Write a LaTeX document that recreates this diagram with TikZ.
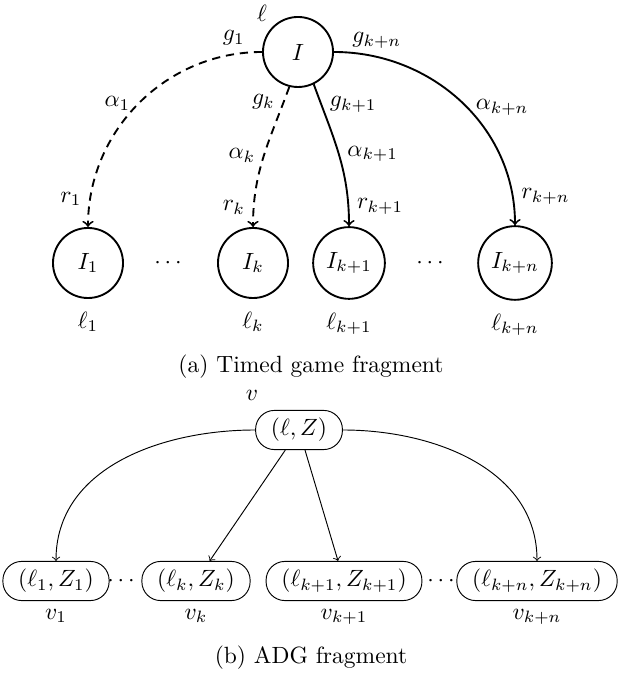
\documentclass[tikz,border=0pt]{standalone}
\usetikzlibrary{arrows, positioning}

\begin{document}
\begin{tikzpicture}[x=0.4255pt, y=0.4255pt,
  state/.style={circle, draw, thick, minimum size=29.8pt},
  zone/.style={rectangle, draw, rounded corners=8pt, minimum height=16.5pt, inner xsep=6.5pt},
  trans/.style={->, thick},
  guard/.style={dash pattern=on 3.5pt off 2.5pt},
  adg/.style={->}]
  \useasboundingbox (0,0) rectangle (620,675);

  % (a) Timed game fragment: nodes
  \node [state] (I) at (298,623) {$I$};
  \node [state] (I1) at (88,412) {$I_1$};
  \node [state] (Ik) at (253,412) {$I_k$};
  \node [state] (Ik1) at (349,412) {$I_{k+1}$};
  \node [state] (Ikn) at (515,412) {$I_{k+n}$};
  \node (dotsA) at (168,412) {$\cdots$};
  \node (dotsB) at (430,412) {$\cdots$};

  % Locations
  \node (loc) at (262,662) {$\ell$};
  \node [below=2pt of I1] (loc1) {$\ell_1$};
  \node [below=2pt of Ik] (lock) {$\ell_k$};
  \node [below=2pt of Ik1] (lock1) {$\ell_{k+1}$};
  \node [below=2pt of Ikn] (lockn) {$\ell_{k+n}$};

  % Edges
  \draw [trans, guard] (I.west) to[out=180, in=90]
    node [pos=0.1, above] (g1) {$g_1$}
    node [pos=0.5, left] (a1) {$\alpha_1$}
    node [pos=0.9, left] (r1) {$r_1$} (I1.north);
  \draw [trans, guard] (I.-104) to[out=-110, in=90]
    node [pos=0.1, left] (gk) {$g_k$}
    node [pos=0.5, left] (ak) {$\alpha_k$}
    node [pos=0.88, left] (rk) {$r_k$} (Ik.north);
  \draw [trans] (I.-64) to[out=-70, in=90]
    node [pos=0.13, right] (gk1) {$g_{k+1}$}
    node [pos=0.5, right] (ak1) {$\alpha_{k+1}$}
    node [pos=0.88, right] (rk1) {$r_{k+1}$} (Ik1.north);
  \draw [trans] (I.east) to[out=0, in=90]
    node [pos=0.15, above] (gkn) {$g_{k+n}$}
    node [pos=0.53, right] (akn) {$\alpha_{k+n}$}
    node [pos=0.9, right] (rkn) {$r_{k+n}$} (Ikn.north);

  \node (capA) at (311,308) {(a) Timed game fragment};

  % (b) ADG fragment: nodes
  \node [zone] (v) at (299,245) {$(\ell, Z)$};
  \node [zone] (v1) at (56,94) {$(\ell_1, Z_1)$};
  \node [zone] (vk) at (196,94) {$(\ell_k, Z_k)$};
  \node [zone] (vk1) at (344,94) {$(\ell_{k+1}, Z_{k+1})$};
  \node [zone] (vkn) at (537,94) {$(\ell_{k+n}, Z_{k+n})$};
  \node (dotsC) at (121,94) {$\cdots$};
  \node (dotsD) at (441,94) {$\cdots$};

  % Vertex names
  \node (nv) at (252,280) {$v$};
  \node [below=0pt of v1] (nv1) {$v_1$};
  \node [below=0pt of vk] (nvk) {$v_k$};
  \node [below=0pt of vk1] (nvk1) {$v_{k+1}$};
  \node [below=0pt of vkn] (nvkn) {$v_{k+n}$};

  % Edges
  \draw [adg] (v.west) to[out=180, in=90] (v1.north);
  \draw [adg] (v) -- (vk);
  \draw [adg] (v) -- (vk1);
  \draw [adg] (v.east) to[out=0, in=90] (vkn.north);

  \node (capB) at (311,17) {(b) ADG fragment};
\end{tikzpicture}
\end{document}
